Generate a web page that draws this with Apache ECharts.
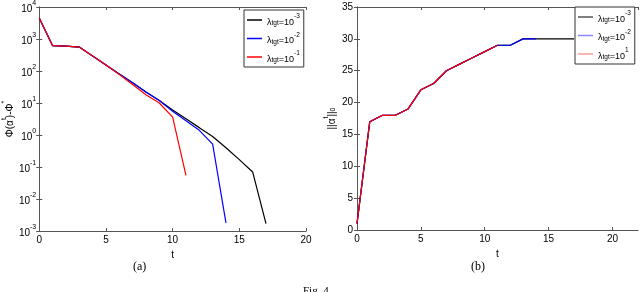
<!DOCTYPE html>
<html><head><meta charset="utf-8">
<script src="https://cdn.jsdelivr.net/npm/echarts@6/dist/echarts.min.js"></script>
<style>html,body{margin:0;padding:0;background:#fff}#c{width:640px;height:292px}</style>
</head><body><div id="c"></div>
<script>
// ---- data ----
const tA = [0,1,2,3,4,5,6,7,8,9,10,11,12,13,14,15,16,17];
const objBlack = [4500,620,600,560,295,155,81,43,22,12,6,3.2,1.7,0.9,0.4,0.17,0.07,0.0017];
const objBlue  = [4500,620,600,560,295,155,81,43,22,12,5.5,2.8,1.4,0.52,0.0018];
const objRed   = [4500,620,600,560,295,155,78,38,18,10,3.6,0.055];
const tB = [0,1,2,3,4,5,6,7,8,9,10,11,12,13,14,15,16,17];
const normBlack = [1,17,18,18,19,22,23,25,26,27,28,29,29,30,30,30,30,30];
const normBlue  = [1,17,18,18,19,22,23,25,26,27,28,29,29,30,30];
const normRed   = [1,17,18,18,19,22,23,25,26,27,28,29];
const legendExpA = ['-3','-2','-1'];
const legendExpB = ['-3','-2','1'];
const xTicks = [0,5,10,15,20];
const logTickExps = [-3,-2,-1,0,1,2,3,4];
const namesA = ['λtgt=10^-3','λtgt=10^-2','λtgt=10^-1'];
const namesB = ['λtgt=10^-3 (b)','λtgt=10^-2 (b)','λtgt=10^-1 (b)'];
const colors = ['#000000','#0000ff','#ff0000'];
const paleColors = ['#555555','#8888ff','#ff9999'];

const pair = (t, v) => v.map((y, i) => [t[i], y]);

const font = 'Liberation Sans, Arial, sans-serif';
const axisCol = '#555';
const rich = {
  a: {fontSize: 10, fontFamily: font, color: '#000', lineHeight: 14, verticalAlign: 'bottom'},
  s: {fontSize: 7, fontFamily: font, color: '#000', lineHeight: 7, verticalAlign: 'top'},
  b: {fontSize: 7, fontFamily: font, color: '#000', lineHeight: 6, verticalAlign: 'bottom'}
};
const richL = {
  a: {fontSize: 9, fontFamily: font, color: '#000', lineHeight: 14, verticalAlign: 'bottom'},
  s: {fontSize: 6.5, fontFamily: font, color: '#000', lineHeight: 7, verticalAlign: 'top'},
  b: {fontSize: 6.5, fontFamily: font, color: '#000', lineHeight: 6, verticalAlign: 'bottom'}
};

function xAx(grid, pos, max, showLabel) {
  return {
    type: 'value', gridIndex: grid, position: pos, min: 0, max: max, interval: 5,
    name: showLabel ? 't' : '', nameLocation: 'middle', nameGap: 15,
    nameTextStyle: {fontFamily: font, fontSize: 10, color: '#000'},
    axisLine: {show: true, onZero: false, lineStyle: {color: axisCol, width: 1}},
    axisTick: {show: true, inside: true, length: 3, lineStyle: {color: axisCol}},
    axisLabel: {show: showLabel, showMaxLabel: max === 20, fontFamily: font, fontSize: 10, color: '#000', margin: 4,
      formatter: v => xTicks.includes(v) ? String(v) : ''},
    splitLine: {show: false}
  };
}
function yLog(grid, pos, showLabel) {
  return {
    type: 'log', logBase: 10, gridIndex: grid, position: pos, min: 0.001, max: 10000, interval: 1,
    name: showLabel ? '{a|Φ(α}{s|t}{a|)-Φ}{s|*}' : '', nameLocation: 'middle', nameGap: 18, nameRotate: 90,
    nameTextStyle: {rich: rich},
    axisLine: {show: true, lineStyle: {color: axisCol, width: 1}},
    axisTick: {show: true, inside: true, length: 3, lineStyle: {color: axisCol}},
    axisLabel: {show: showLabel, margin: 3, rich: rich,
      formatter: v => { const e = Math.round(Math.log10(v)); return logTickExps.includes(e) ? '{a|10}{s|' + e + '}' : ''; }},
    splitLine: {show: false}
  };
}
function yLin(grid, pos, showLabel) {
  return {
    type: 'value', gridIndex: grid, position: pos, min: 0, max: 35, interval: 5,
    name: showLabel ? '{a|||α}{s|t}{a|||}{b|0}' : '', nameLocation: 'middle', nameGap: 20, nameRotate: 90,
    nameTextStyle: {rich: rich},
    axisLine: {show: true, lineStyle: {color: axisCol, width: 1}},
    axisTick: {show: true, inside: true, length: 3, lineStyle: {color: axisCol}},
    axisLabel: {show: showLabel, fontFamily: font, fontSize: 10, color: '#000', margin: 4},
    splitLine: {show: false}
  };
}
function legend(left, top, names, exps, cols) {
  return {
    show: true, left: left, top: top, orient: 'vertical', itemGap: 4.5, padding: [3, 4, 3, 3],
    backgroundColor: '#fff', borderColor: '#333', borderWidth: 1,
    icon: 'rect', itemWidth: 15, itemHeight: 1.5,
    data: names.map((n, i) => ({name: n, itemStyle: {color: cols[i]}})),
    formatter: n => { const i = names.indexOf(n); return '{a|λ}{b|tgt}{a|=10}{s|' + exps[i] + '}'; },
    textStyle: {rich: richL},
    selectedMode: false
  };
}
function line(name, xi, yi, data, color, w) {
  return {name: name, type: 'line', xAxisIndex: xi, yAxisIndex: yi, data: data, symbol: 'none',
    lineStyle: {color: color, width: w}, itemStyle: {color: color}, color: color, animation: false};
}

const chart = echarts.init(document.getElementById('c'), null, {renderer: 'canvas'});
chart.setOption({
  backgroundColor: '#fff',
  animation: false,
  grid: [
    {left: 30, top: 7, width: 276, height: 224},
    {left: 357, top: 7, width: 281, height: 223}
  ],
  xAxis: [xAx(0, 'bottom', 20, true), xAx(0, 'top', 20, false), xAx(1, 'bottom', 22, true), xAx(1, 'top', 22, false)],
  yAxis: [yLog(0, 'left', true), yLog(0, 'right', false), yLin(1, 'left', true), yLin(1, 'right', false)],
  legend: [legend(244, 10, namesA, legendExpA, colors), legend(575, 7, namesB, legendExpB, paleColors)],
  series: [
    line(namesA[0], 0, 0, pair(tA, objBlack), colors[0], 1.2),
    line(namesA[1], 0, 0, pair(tA, objBlue), colors[1], 1.2),
    line(namesA[2], 0, 0, pair(tA, objRed), colors[2], 1.2),
    line(namesB[0], 2, 2, pair(tB, normBlack), colors[0], 1.2),
    line(namesB[1], 2, 2, pair(tB, normBlue), colors[1], 1.2),
    line(namesB[2], 2, 2, pair(tB, normRed), colors[2], 1.2)
  ],
  graphic: [
    {type: 'text', left: 133, top: 261, style: {text: '(a)', font: '12px "Liberation Serif", serif', fill: '#000'}},
    {type: 'text', left: 471, top: 261, style: {text: '(b)', font: '12px "Liberation Serif", serif', fill: '#000'}},
    {type: 'text', left: 303, top: 286, style: {text: 'Fig. 4', font: '11px "Liberation Serif", serif', fill: '#000'}}
  ]
});
</script></body></html>
